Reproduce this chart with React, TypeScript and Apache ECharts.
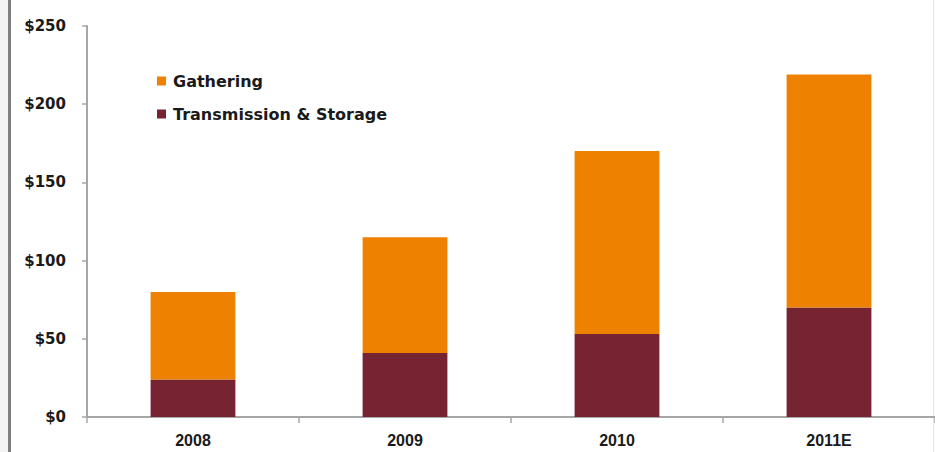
import React, { useEffect, useRef } from "react";
import * as echarts from "echarts";

const categories = ["2008", "2009", "2010", "2011E"];
const transmissionStorage = [24, 41, 53, 70];
const gathering = [56, 74, 117, 149];
const yTicks = { min: 0, max: 250, interval: 50 };
const seriesNames = ["Gathering", "Transmission & Storage"];

export default function App() {
  const ref = useRef<HTMLDivElement>(null);
  useEffect(() => {
    if (!ref.current) return;
    const chart = echarts.init(ref.current, null, { renderer: "svg" });
    chart.setOption({
      animation: false,
      backgroundColor: "#ffffff",
      grid: { left: 87, right: 0, top: 26, bottom: 35, containLabel: false },
      legend: {
        data: seriesNames,
        orient: "vertical",
        left: 152,
        top: 67,
        icon: "rect",
        itemWidth: 9,
        itemHeight: 9,
        itemGap: 15,
        textStyle: {
          fontFamily: "DejaVu Sans",
          fontWeight: "bold",
          fontSize: 16,
          color: "#1a1a1a",
          lineHeight: 18,
          padding: [0, 0, 0, 2],
        },
      },
      xAxis: {
        type: "category",
        data: categories,
        axisLine: { lineStyle: { color: "#a6a6a6", width: 2 } },
        axisTick: { show: true, length: 6, lineStyle: { color: "#a6a6a6", width: 1.5 } },
        axisLabel: {
          margin: 15,
          fontFamily: "Liberation Sans",
          fontWeight: "bold",
          fontSize: 16,
          color: "#1a1a1a",
        },
      },
      yAxis: {
        type: "value",
        min: yTicks.min,
        max: yTicks.max,
        interval: yTicks.interval,
        axisLine: { show: true, lineStyle: { color: "#a6a6a6", width: 2 } },
        axisTick: { show: true, length: 5, lineStyle: { color: "#a6a6a6", width: 1.5 } },
        splitLine: { show: false },
        axisLabel: {
          margin: 21,
          formatter: (v: number) => "$" + v,
          fontFamily: "DejaVu Sans",
          fontWeight: "bold",
          fontSize: 15,
          color: "#1a1a1a",
        },
      },
      series: [
        {
          name: "Transmission & Storage",
          type: "bar",
          stack: "total",
          barWidth: "40%",
          data: transmissionStorage,
          itemStyle: { color: "#762332" },
        },
        {
          name: "Gathering",
          type: "bar",
          stack: "total",
          barWidth: "40%",
          data: gathering,
          itemStyle: { color: "#EE8200" },
        },
      ],
      graphic: [
        { type: "rect", shape: { x: 0, y: 0, width: 8, height: 452 }, style: { fill: "#f3f3f3" }, silent: true },
        { type: "rect", shape: { x: 8, y: 0, width: 3, height: 452 }, style: { fill: "#7f7f7f" }, silent: true },
        { type: "rect", shape: { x: 933, y: 0, width: 1, height: 452 }, style: { fill: "#e4e4e4" }, silent: true },
      ],
    });
    return () => chart.dispose();
  }, []);
  return (
    <div
      ref={ref}
      style={{ position: "fixed", left: 0, top: 0, width: 935, height: 452 }}
    />
  );
}
